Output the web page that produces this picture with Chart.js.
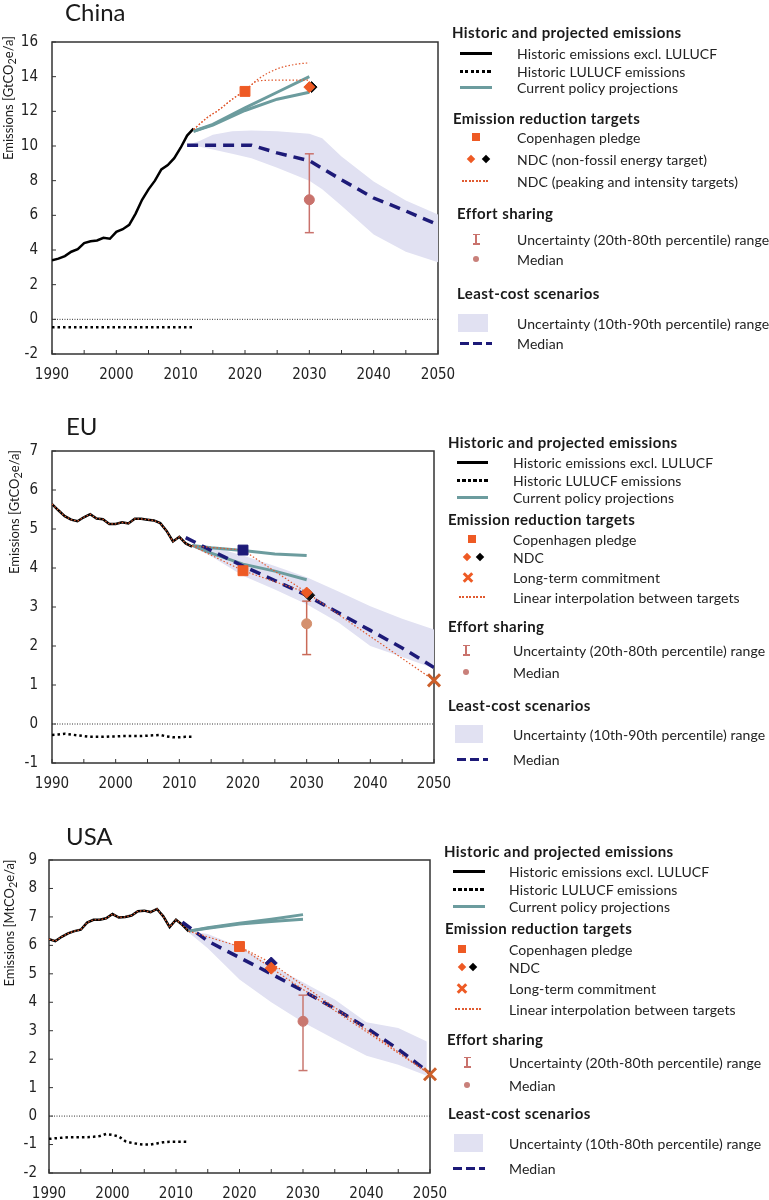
<!DOCTYPE html>
<html>
<head>
<meta charset="utf-8">
<script src="https://cdn.jsdelivr.net/npm/chart.js@4.4.0/dist/chart.umd.min.js"></script>
<style>
  body { margin: 0; background: #fff; font-family: Lato, "Noto Sans", sans-serif; color: #1a1a1a; }
  #page { position: relative; width: 769px; height: 1200px; overflow: hidden; }
  canvas { position: absolute; left: 0; }
  .title { position: absolute; font-size: 24px; line-height: 24px; }
  .ytitle { position: absolute; font-size: 13px; white-space: nowrap; transform: translate(-50%, -50%) rotate(-90deg); }
</style>
</head>
<body>
<div id="page">
  <canvas id="china" width="470" height="390" style="top:0px"></canvas>
  <canvas id="eu" width="470" height="390" style="top:409px"></canvas>
  <canvas id="usa" width="470" height="382" style="top:818px"></canvas>
  <div class="title" style="left:65px;top:0px">China</div>
  <div class="title" style="left:66px;top:414px">EU</div>
  <div class="title" style="left:66px;top:824px">USA</div>
  <div class="ytitle" style="left:9px;top:98px">Emissions [GtCO<sub>2</sub>e/a]</div>
  <div class="ytitle" style="left:15px;top:512px">Emissions [GtCO<sub>2</sub>e/a]</div>
  <div class="ytitle" style="left:10px;top:923px">Emissions [MtCO<sub>2</sub>e/a]</div>
</div>
<script>
// ---- data ----
const histYears = [1990, 1991, 1992, 1993, 1994, 1995, 1996, 1997, 1998, 1999, 2000, 2001, 2002, 2003, 2004, 2005, 2006, 2007, 2008, 2009, 2010, 2011, 2012];
const projYears = [2012, 2015, 2020, 2025, 2030];
const zeroYears = [1990, 2050];
const zeroValues = [0, 0];

// China
const chinaHist = [3.4, 3.5, 3.65, 3.9, 4.05, 4.4, 4.5, 4.55, 4.7, 4.65, 5.05, 5.2, 5.45, 6.1, 6.9, 7.5, 8.0, 8.65, 8.9, 9.3, 9.9, 10.6, 11.0];
const chinaLulucf = [-0.45, -0.45, -0.45, -0.45, -0.45, -0.45, -0.45, -0.45, -0.45, -0.45, -0.45, -0.45, -0.45, -0.45, -0.45, -0.45, -0.45, -0.45, -0.45, -0.45, -0.45, -0.45, -0.45];
const chinaCppHigh = [10.85, 11.25, 12.2, 13.1, 14.0];
const chinaCppLow = [10.85, 11.2, 12.05, 12.7, 13.1];
const chinaNdcHighYears = [2012, 2014, 2016, 2018, 2020, 2022, 2025, 2028, 2030];
const chinaNdcHigh = [10.95, 11.6, 12.1, 12.7, 13.2, 13.85, 14.45, 14.72, 14.8];
const chinaNdcLowYears = [2012, 2014, 2016, 2018, 2020, 2022, 2025, 2030];
const chinaNdcLow = [10.95, 11.6, 12.1, 12.7, 13.2, 13.75, 13.8, 13.8];
const chinaCph = { x: [2020], y: [13.15] };
const chinaNdcOrange = { x: [2030], y: [13.4] };
const chinaNdcBlack = { x: [2030.35], y: [13.4] };
const chinaEffort = { x: [2030, 2030], range: [5.0, 9.55], median: [6.9] };
const chinaLcYears = [2011, 2021, 2025, 2030, 2035, 2040, 2045, 2050];
const chinaLcMedian = [10.05, 10.05, 9.6, 9.15, 8.05, 7.0, 6.25, 5.45];
const chinaBandYears = [2011, 2013, 2015, 2018, 2021, 2025, 2030, 2032, 2035, 2040, 2045, 2050];
const chinaBandHigh = [10.05, 10.3, 10.65, 10.85, 10.9, 10.85, 10.7, 10.45, 9.4, 7.95, 6.85, 6.05];
const chinaBandLow = [10.0, 9.95, 9.8, 9.55, 9.3, 8.75, 8.0, 7.5, 6.55, 4.9, 3.9, 3.3];

// EU
const euHist = [5.64, 5.48, 5.33, 5.24, 5.2, 5.3, 5.38, 5.27, 5.25, 5.13, 5.13, 5.17, 5.14, 5.26, 5.26, 5.24, 5.22, 5.15, 4.95, 4.68, 4.8, 4.63, 4.55];
const euLulucf = [-0.28, -0.27, -0.25, -0.27, -0.29, -0.31, -0.33, -0.33, -0.33, -0.32, -0.32, -0.31, -0.31, -0.31, -0.31, -0.3, -0.29, -0.28, -0.32, -0.34, -0.34, -0.33, -0.33];
const euCppHigh = [4.58, 4.52, 4.45, 4.36, 4.32];
const euCppLow = [4.58, 4.38, 4.1, 3.92, 3.7];
const euInterpAYears = [2012, 2020, 2030, 2050];
const euInterpA = [4.57, 4.46, 3.37, 1.12];
const euInterpBYears = [2012, 2020, 2030];
const euInterpB = [4.57, 3.93, 3.37];
const euCph = { x: [2020], y: [3.93] };
const euCphOther = { x: [2020], y: [4.46] };
const euNdcOrange = { x: [2030], y: [3.37] };
const euNdcBlack = { x: [2030.4], y: [3.3] };
const euLongTerm = { x: [2050], y: [1.12] };
const euEffort = { x: [2030, 2030], range: [1.78, 3.15], median: [2.57] };
const euLcYears = [2011, 2015, 2020, 2025, 2030, 2035, 2040, 2045, 2050];
const euLcMedian = [4.78, 4.45, 4.05, 3.68, 3.3, 2.85, 2.4, 1.95, 1.45];
const euBandYears = [2012, 2015, 2020, 2025, 2030, 2035, 2040, 2045, 2050];
const euBandHigh = [4.6, 4.55, 4.32, 4.05, 3.76, 3.4, 3.02, 2.7, 2.42];
const euBandLow = [4.55, 4.3, 3.8, 3.45, 3.07, 2.6, 2.0, 1.72, 1.42];

// USA
const usHist = [6.22, 6.15, 6.3, 6.42, 6.5, 6.55, 6.8, 6.9, 6.9, 6.95, 7.1, 6.98, 7.0, 7.05, 7.2, 7.22, 7.17, 7.28, 7.02, 6.64, 6.9, 6.72, 6.49];
const usLulucf = [-0.8, -0.78, -0.76, -0.74, -0.74, -0.74, -0.74, -0.73, -0.7, -0.63, -0.66, -0.72, -0.88, -0.94, -0.98, -1.0, -1.0, -0.96, -0.92, -0.9, -0.9, -0.9, -0.91];
const usCppHigh = [6.5, 6.62, 6.78, 6.92, 7.08];
const usCppLow = [6.5, 6.6, 6.75, 6.84, 6.92];
const usInterpAYears = [2012, 2020, 2025, 2050];
const usInterpA = [6.5, 5.96, 5.38, 1.47];
const usInterpBYears = [2020, 2025, 2050];
const usInterpB = [5.96, 5.2, 1.47];
const usCph = { x: [2020], y: [5.96] };
const usNdcOrange = { x: [2025], y: [5.2] };
const usNdcNavy = { x: [2025], y: [5.38] };
const usLongTerm = { x: [2050], y: [1.47] };
const usEffort = { x: [2030, 2030], range: [1.6, 4.25], median: [3.33] };
const usLcYears = [2011, 2015, 2020, 2025, 2030, 2035, 2040, 2045, 2050];
const usLcMedian = [6.82, 6.15, 5.57, 5.0, 4.4, 3.78, 3.1, 2.35, 1.5];
const usBandYears = [2012, 2015, 2020, 2025, 2030, 2035, 2040, 2045, 2049.5];
const usBandHigh = [6.5, 6.4, 5.95, 5.3, 4.7, 4.1, 3.3, 3.1, 2.62];
const usBandLow = [6.45, 5.9, 4.8, 4.0, 3.3, 2.7, 2.12, 1.8, 1.42];

// ---- styles ----
const BLACK = '#000';
const TEAL = '#6c9c9e';
const NAVY = '#1d1a78';
const ORANGE = '#ee5a24';
const DOTORANGE = '#e05a30';
const CROSS = '#cc5f2a';
const BAND = 'rgb(225,225,242)';
const tickFont = '"Liberation Sans Narrow", "DejaVu Sans Condensed", Lato, sans-serif';

function pts(xs, ys) { return xs.map((x, i) => ({ x: x, y: ys[i] })); }

function lineDs(xs, ys, color, width, dash, extra) {
  return Object.assign({
    data: pts(xs, ys), borderColor: color, borderWidth: width, borderDash: dash || [],
    pointRadius: 0, fill: false, tension: 0
  }, extra || {});
}
function markDs(m, style, radius, color, extra) {
  return Object.assign({
    data: pts(m.x, m.y), showLine: false, pointStyle: style, pointRadius: radius,
    pointBackgroundColor: color, pointBorderColor: color, pointBorderWidth: 1, clip: false
  }, extra || {});
}
function effortDs(e, barColor, dotColor) {
  return [
    lineDs(e.x, e.range, barColor, 1.5, [], { pointStyle: 'line', pointRadius: 4.5, pointBorderWidth: 1.5, pointBorderColor: barColor }),
    markDs({ x: [e.x[0]], y: e.median }, 'circle', 5, dotColor)
  ];
}

// frame + inward ticks like the original
const framePlugin = {
  id: 'frame',
  beforeDatasetsDraw(chart) {
    const { ctx, chartArea: a, scales } = chart;
    ctx.save();
    ctx.strokeStyle = '#333';
    ctx.lineWidth = 1.5;
    ctx.strokeRect(a.left, a.top, a.right - a.left, a.bottom - a.top);
    ctx.lineWidth = 1;
    ctx.beginPath();
    scales.x.ticks.forEach(t => {
      const px = scales.x.getPixelForValue(t.value);
      ctx.moveTo(px, a.bottom); ctx.lineTo(px, a.bottom - 4);
    });
    scales.y.ticks.forEach(t => {
      const py = scales.y.getPixelForValue(t.value);
      ctx.moveTo(a.left, py); ctx.lineTo(a.left + 4, py);
    });
    ctx.stroke();
    ctx.restore();
  }
};

function makeChart(id, o) {
  const datasets = o.datasets;
  // first in list is drawn at the back
  datasets.forEach((d, i) => { d.order = datasets.length - i; });
  return new Chart(document.getElementById(id), {
    type: 'line',
    data: { datasets: datasets },
    options: {
      responsive: false,
      animation: false,
      events: [],
      layout: { padding: { top: 42, right: o.padRight, bottom: 0, left: 0 } },
      plugins: { legend: { display: false }, tooltip: { enabled: false } },
      scales: {
        x: {
          type: 'linear', min: 1990, max: 2050,
          grid: { display: false, drawTicks: false }, border: { display: false },
          afterFit: s => { s.height = o.xHeight; },
          ticks: {
            stepSize: 5, autoSkip: false, maxRotation: 0, padding: 12, color: '#222',
            font: { family: tickFont, size: 15 },
            callback: v => (v % 10 === 0 ? String(v) : '')
          }
        },
        y: {
          min: o.yMin, max: o.yMax,
          grid: { display: false, drawTicks: false }, border: { display: false },
          afterFit: s => { s.width = o.yWidth; },
          ticks: { stepSize: o.yStep, padding: o.yPad, color: '#222', font: { family: tickFont, size: 15 } }
        }
      }
    },
    plugins: [framePlugin]
  });
}

function bandDs(xs, hi, lo) {
  return [
    lineDs(xs, hi, BAND, 0, [], {}),
    lineDs(xs, lo, BAND, 0, [], { fill: '-1', backgroundColor: BAND })
  ];
}

makeChart('china', {
  padRight: 32, xHeight: 36, yWidth: 52, yPad: 14, yMin: -2, yMax: 16, yStep: 2,
  datasets: [
    ...bandDs(chinaBandYears, chinaBandHigh, chinaBandLow),
    lineDs(zeroYears, zeroValues, '#333', 1, [1, 1.5]),
    lineDs(histYears, chinaLulucf, BLACK, 2.5, [2.5, 3]),
    lineDs(histYears, chinaHist, BLACK, 2.5),
    lineDs(projYears, chinaCppHigh, TEAL, 3),
    lineDs(projYears, chinaCppLow, TEAL, 3),
    lineDs(chinaLcYears, chinaLcMedian, NAVY, 3.5, [11, 7]),
    lineDs(chinaNdcHighYears, chinaNdcHigh, DOTORANGE, 1.2, [1.5, 2], { cubicInterpolationMode: 'monotone' }),
    lineDs(chinaNdcLowYears, chinaNdcLow, DOTORANGE, 1.2, [1.5, 2], { cubicInterpolationMode: 'monotone' }),
    ...effortDs(chinaEffort, '#c9726c', '#c9726c'),
    markDs(chinaNdcBlack, 'rectRot', 5.5, '#111'),
    markDs(chinaNdcOrange, 'rectRot', 5.5, ORANGE),
    markDs(chinaCph, 'rect', 7, ORANGE)
  ]
});

makeChart('eu', {
  padRight: 36, xHeight: 36, yWidth: 52, yPad: 14, yMin: -1, yMax: 7, yStep: 1,
  datasets: [
    ...bandDs(euBandYears, euBandHigh, euBandLow),
    lineDs(zeroYears, zeroValues, '#333', 1, [1, 1.5]),
    lineDs(histYears, euLulucf, BLACK, 2.5, [2.5, 3]),
    lineDs(histYears, euHist, BLACK, 2.5),
    lineDs(histYears, euHist, DOTORANGE, 1.2, [1.5, 2]),
    lineDs(projYears, euCppHigh, TEAL, 3),
    lineDs(projYears, euCppLow, TEAL, 3),
    lineDs(euLcYears, euLcMedian, NAVY, 3.5, [11, 7]),
    lineDs(euInterpAYears, euInterpA, DOTORANGE, 1.2, [1.5, 2]),
    lineDs(euInterpBYears, euInterpB, DOTORANGE, 1.2, [1.5, 2]),
    ...effortDs(euEffort, '#c96a58', '#d4906e'),
    markDs(euNdcBlack, 'rectRot', 5.5, '#111'),
    markDs(euNdcOrange, 'rectRot', 5.5, ORANGE),
    markDs(euCphOther, 'rect', 7, NAVY),
    markDs(euCph, 'rect', 7, ORANGE),
    markDs(euLongTerm, 'crossRot', 8.5, CROSS, { pointBorderWidth: 3 })
  ]
});

makeChart('usa', {
  padRight: 40, xHeight: 27, yWidth: 49, yPad: 12, yMin: -2, yMax: 9, yStep: 1,
  datasets: [
    ...bandDs(usBandYears, usBandHigh, usBandLow),
    lineDs(zeroYears, zeroValues, '#333', 1, [1, 1.5]),
    lineDs(histYears, usLulucf, BLACK, 2.5, [2.5, 3]),
    lineDs(histYears, usHist, BLACK, 2.5),
    lineDs(histYears, usHist, DOTORANGE, 1.2, [1.5, 2]),
    lineDs(projYears, usCppHigh, TEAL, 3),
    lineDs(projYears, usCppLow, TEAL, 3),
    lineDs(usLcYears, usLcMedian, NAVY, 3.5, [11, 7]),
    lineDs(usInterpAYears, usInterpA, DOTORANGE, 1.2, [1.5, 2]),
    lineDs(usInterpBYears, usInterpB, DOTORANGE, 1.2, [1.5, 2]),
    ...effortDs(usEffort, '#c9776f', '#c9776f'),
    markDs(usNdcNavy, 'rectRot', 6, NAVY),
    markDs(usNdcOrange, 'rectRot', 6, ORANGE),
    markDs(usCph, 'rect', 7, ORANGE),
    markDs(usLongTerm, 'crossRot', 8.5, CROSS, { pointBorderWidth: 3 })
  ]
});

// ---- legends (HTML) ----
const page = document.getElementById('page');
function el(css, html) {
  const d = document.createElement('div');
  d.style.cssText = 'position:absolute;' + css;
  if (html) d.innerHTML = html;
  page.appendChild(d);
  return d;
}
function drawLegend(L) {
  L.rows.forEach(r => {
    const kind = r[0], text = r[1], y = r[2];
    if (kind === 'head') {
      el(`left:${r[3]}px;top:${y}px;transform:translateY(-50%);font-weight:bold;font-size:15px;letter-spacing:0.4px;white-space:nowrap`, text);
      return;
    }
    el(`left:${L.tx}px;top:${y}px;transform:translateY(-50%);font-size:14px;letter-spacing:0.1px;white-space:nowrap;color:#222`, text);
    const w = L.x2 - L.x1;
    if (kind === 'solid') el(`left:${L.x1}px;top:${y - 1.5}px;width:${w}px;height:3px;background:#000`);
    if (kind === 'teal') el(`left:${L.x1}px;top:${y - 1.5}px;width:${w}px;height:3px;background:${TEAL}`);
    if (kind === 'dotted') el(`left:${L.x1}px;top:${y - 1.5}px;width:${w}px;height:3px;background:repeating-linear-gradient(90deg,#000 0 3px,transparent 3px 5.5px)`);
    if (kind === 'dotorange') el(`left:${L.x1 + 2}px;top:${y - 1}px;width:${w - 4}px;height:2px;background:repeating-linear-gradient(90deg,${DOTORANGE} 0 2px,transparent 2px 3.5px)`);
    if (kind === 'square') el(`left:${L.sq - 4}px;top:${y - 4}px;width:8px;height:8px;background:${ORANGE}`);
    if (kind === 'diamonds') {
      el(`left:${L.d1 - 3}px;top:${y - 3}px;width:6px;height:6px;background:${ORANGE};transform:rotate(45deg)`);
      el(`left:${L.d2 - 3}px;top:${y - 3}px;width:6px;height:6px;background:#000;transform:rotate(45deg)`);
    }
    if (kind === 'cross') {
      el(`left:${L.cx - 6}px;top:${y - 1.5}px;width:12px;height:3px;background:${ORANGE};transform:rotate(45deg)`);
      el(`left:${L.cx - 6}px;top:${y - 1.5}px;width:12px;height:3px;background:${ORANGE};transform:rotate(-45deg)`);
    }
    if (kind === 'errbar') {
      el(`left:${L.eb - 0.75}px;top:${y - 5.5}px;width:1.5px;height:11px;background:#c9726c`);
      el(`left:${L.eb - 3.5}px;top:${y - 5.5}px;width:7px;height:1.5px;background:#c9726c`);
      el(`left:${L.eb - 3.5}px;top:${y + 4}px;width:7px;height:1.5px;background:#c9726c`);
    }
    if (kind === 'dot') el(`left:${L.eb - 3}px;top:${y - 3}px;width:6px;height:6px;border-radius:50%;background:#c9807a`);
    if (kind === 'box') el(`left:${L.b1}px;top:${y - 9}px;width:${L.b2 - L.b1}px;height:18px;background:${BAND}`);
    if (kind === 'dash') el(`left:${L.x1}px;top:${y - 1.5}px;width:${w}px;height:3px;background:repeating-linear-gradient(90deg,${NAVY} 0 9px,transparent 9px 13px)`);
  });
}

drawLegend({
  x1: 460, x2: 492, sq: 476, d1: 471, d2: 486, cx: 476, eb: 476, b1: 458, b2: 488, tx: 517,
  rows: [
    ['head', 'Historic and projected emissions', 32, 452],
    ['solid', 'Historic emissions excl. LULUCF', 53],
    ['dotted', 'Historic LULUCF emissions', 71],
    ['teal', 'Current policy projections', 87],
    ['head', 'Emission reduction targets', 118, 453],
    ['square', 'Copenhagen pledge', 137],
    ['diamonds', 'NDC (non-fossil energy target)', 159],
    ['dotorange', 'NDC (peaking and intensity targets)', 181],
    ['head', 'Effort sharing', 213, 457],
    ['errbar', 'Uncertainty (20th-80th percentile) range', 239],
    ['dot', 'Median', 259],
    ['head', 'Least-cost scenarios', 293, 457],
    ['box', 'Uncertainty (10th-90th percentile) range', 323],
    ['dash', 'Median', 343]
  ]
});

drawLegend({
  x1: 457, x2: 488, sq: 472, d1: 467, d2: 480, cx: 468, eb: 466, b1: 455, b2: 483, tx: 513,
  rows: [
    ['head', 'Historic and projected emissions', 442, 448],
    ['solid', 'Historic emissions excl. LULUCF', 462],
    ['dotted', 'Historic LULUCF emissions', 480],
    ['teal', 'Current policy projections', 497],
    ['head', 'Emission reduction targets', 519, 448],
    ['square', 'Copenhagen pledge', 539],
    ['diamonds', 'NDC', 557],
    ['cross', 'Long-term commitment', 577],
    ['dotorange', 'Linear interpolation between targets', 597],
    ['head', 'Effort sharing', 626, 448],
    ['errbar', 'Uncertainty (20th-80th percentile) range', 650],
    ['dot', 'Median', 672],
    ['head', 'Least-cost scenarios', 705, 448],
    ['box', 'Uncertainty (10th-90th percentile) range', 734],
    ['dash', 'Median', 759]
  ]
});

drawLegend({
  x1: 453, x2: 485, sq: 462, d1: 462, d2: 473, cx: 462, eb: 467, b1: 454, b2: 483, tx: 509,
  rows: [
    ['head', 'Historic and projected emissions', 851, 444],
    ['solid', 'Historic emissions excl. LULUCF', 871],
    ['dotted', 'Historic LULUCF emissions', 889],
    ['teal', 'Current policy projections', 906],
    ['head', 'Emission reduction targets', 928, 445],
    ['square', 'Copenhagen pledge', 949],
    ['diamonds', 'NDC', 967],
    ['cross', 'Long-term commitment', 988],
    ['dotorange', 'Linear interpolation between targets', 1009],
    ['head', 'Effort sharing', 1039, 447],
    ['errbar', 'Uncertainty (20th-80th percentile) range', 1062],
    ['dot', 'Median', 1085],
    ['head', 'Least-cost scenarios', 1113, 448],
    ['box', 'Uncertainty (10th-80th percentile) range', 1143],
    ['dash', 'Median', 1168]
  ]
});
</script>
</body>
</html>
